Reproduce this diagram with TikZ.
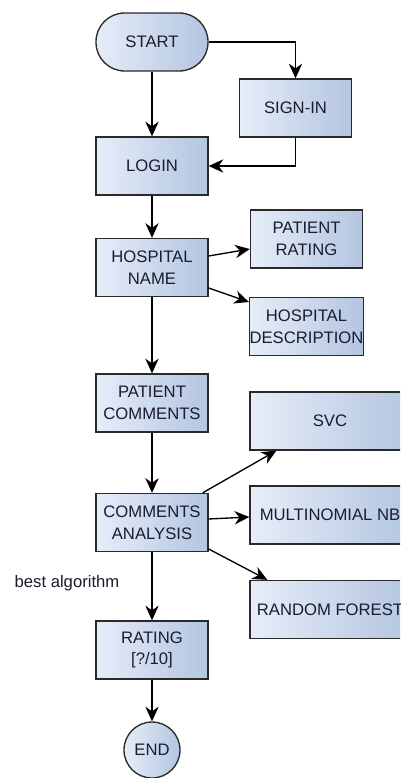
\documentclass[tikz,border=0pt]{standalone}
\usepackage{fontspec}
\setmainfont{Liberation Sans}
\usetikzlibrary{arrows.meta,calc}
\definecolor{boxL}{HTML}{E6EDF8}
\definecolor{boxR}{HTML}{B3C5E0}
\definecolor{edgeC}{HTML}{2A2A2A}
\definecolor{txtC}{HTML}{1C1C30}
\begin{document}
\begin{tikzpicture}[x=0.75pt,y=-0.75pt,
  base/.style={draw=edgeC,line width=1pt,left color=boxL,right color=boxR,
    align=center,inner sep=0pt,text=txtC,font=\fontsize{12.5}{16.3}\selectfont},
  stepbox/.style={base,minimum width=84pt,minimum height=43.5pt},
  algbox/.style={base,minimum width=120pt,minimum height=43.5pt},
  termbox/.style={base,minimum width=84pt,minimum height=43.5pt,rounded corners=21.5pt},
  endbox/.style={base,circle,minimum size=42pt},
  conn/.style={draw=black,line width=1pt,-{Stealth[length=11pt,width=10pt,inset=3.5pt]}}]
\clip (0,0) rectangle (400,778);
\fill[white] (0,0) rectangle (400,778);
\node[termbox] (start) at (152,42) {START};
\node[stepbox] (signin) at (295.5,108) {SIGN-IN};
\node[stepbox] (login) at (152,166) {LOGIN};
\node[stepbox] (hname) at (152,267.5) {HOSPITAL\\NAME};
\node[stepbox] (prating) at (306.5,239) {PATIENT\\RATING};
\node[stepbox] (hdesc) at (306.5,326.5) {HOSPITAL\\DESCRIPTION};
\node[stepbox] (pcomm) at (152,403) {PATIENT\\COMMENTS};
\node[stepbox] (canal) at (152,522.5) {COMMENTS\\ANALYSIS};
\node[algbox] (svc) at (330,421) {SVC};
\node[algbox] (mnb) at (330,515) {MULTINOMIAL NB};
\node[algbox] (rf) at (330,609.5) {RANDOM FOREST};
\node[stepbox] (rating) at (152,650) {RATING\\{[?/10]}};
\node[endbox] (end) at (152,750) {END};
\node[text=txtC,font=\fontsize{12.5}{16}\selectfont] (best) at (67,583) {best algorithm};

\draw[conn] (start.east) -| (signin.north);
\draw[conn] (start.south) -- (login.north);
\draw[conn] (signin.south) |- (login.east);
\draw[conn] (login.south) -- (hname.north);
\draw[conn] ($(hname.east)+(0,-11.5)$) -- ($(prating.west)+(0,10)$);
\draw[conn] ($(hname.east)+(0,20.5)$) -- ($(hdesc.west)+(0,-24.5)$);
\draw[conn] (hname.south) -- (pcomm.north);
\draw[conn] (pcomm.south) -- (canal.north);
\draw[conn] ($(canal.north east)+(-6,0)$) -- ($(svc.south west)+(27,0)$);
\draw[conn] ($(canal.east)+(0,-3.5)$) -- ($(mnb.west)+(0,2)$);
\draw[conn] ($(canal.east)+(0,26.5)$) -- ($(rf.north west)+(18,0)$);
\draw[conn] (canal.south) -- (rating.north);
\draw[conn] (rating.south) -- (end.north);
\end{tikzpicture}
\end{document}
